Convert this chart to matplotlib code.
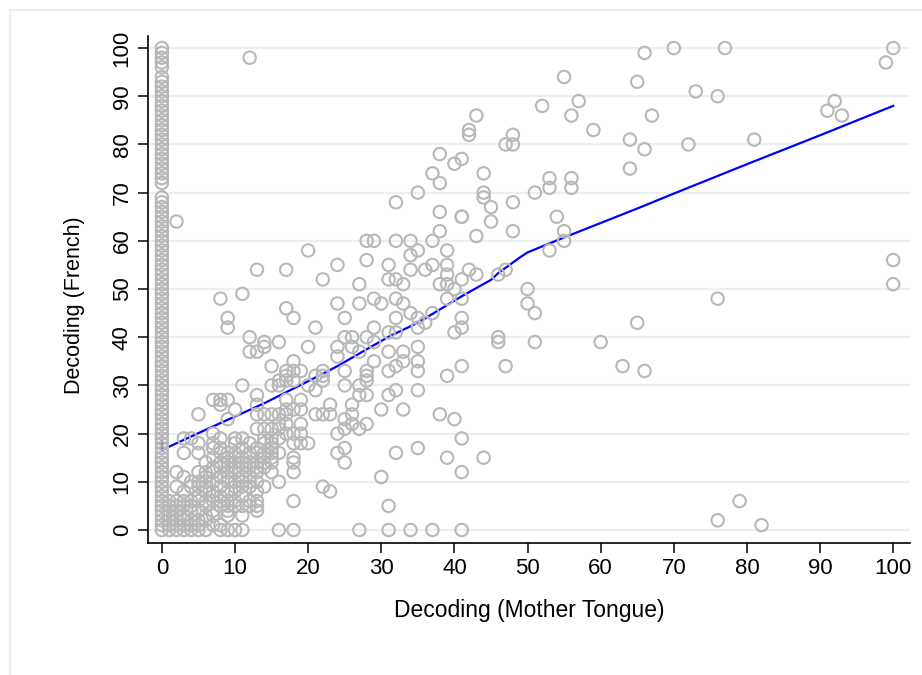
import matplotlib.pyplot as plt
from matplotlib.patches import Rectangle

plt.rcParams['font.family'] = ['Liberation Sans', 'DejaVu Sans']

# children with a mother tongue score of 0: french decoding scores
zero_y = [0, 1, 2, 3, 4, 5, 6, 7, 8, 9, 10, 11, 12, 13, 14, 15, 16, 17, 18, 19,
          20, 21, 22, 23, 24, 25, 26, 27, 28, 29, 30, 31, 32, 33, 34, 35, 36, 37, 38, 39,
          40, 41, 42, 43, 44, 45, 46, 47, 48, 49, 50, 51, 52, 53, 54, 55, 56, 57, 58, 59,
          60, 61, 62, 63, 64, 65, 66, 67, 68, 69,
          72, 73, 74, 75, 76, 77, 78, 79, 80, 81, 82, 83, 84, 85, 86, 87, 88, 89, 90, 91,
          92, 93, 94, 96, 97, 98, 99, 100]

# (mother tongue, french) pairs
low_pts = [(1, 0), (1, 1), (1, 2), (1, 3), (1, 4), (1, 5), (1, 6),
           (2, 0), (2, 1), (2, 2), (2, 3), (2, 4), (2, 5), (2, 6), (2, 9), (2, 12), (2, 64),
           (3, 0), (3, 1), (3, 2), (3, 3), (3, 5), (3, 6), (3, 8), (3, 11), (3, 16), (3, 19),
           (4, 0), (4, 1), (4, 2), (4, 4), (4, 5), (4, 6), (4, 9), (4, 10), (4, 19),
           (5, 0), (5, 1), (5, 2), (5, 4), (5, 6), (5, 7), (5, 9), (5, 10), (5, 12), (5, 16), (5, 18), (5, 24),
           (6, 0), (6, 2), (6, 3), (6, 5), (6, 6), (6, 8), (6, 9), (6, 10), (6, 11), (6, 12), (6, 14),
           (7, 1), (7, 3), (7, 4), (7, 6), (7, 7), (7, 8), (7, 10), (7, 12), (7, 13), (7, 15), (7, 17),
           (7, 18), (7, 20), (7, 27),
           (8, 0), (8, 1), (8, 5), (8, 6), (8, 7), (8, 9), (8, 11), (8, 13), (8, 14), (8, 16), (8, 17),
           (8, 19), (8, 26), (8, 27), (8, 48),
           (9, 0), (9, 3), (9, 4), (9, 5), (9, 6), (9, 8), (9, 10), (9, 11), (9, 12), (9, 13), (9, 14),
           (9, 15), (9, 16), (9, 23), (9, 27), (9, 42), (9, 44),
           (10, 0), (10, 5), (10, 6), (10, 8), (10, 9), (10, 10), (10, 12), (10, 13), (10, 14), (10, 15),
           (10, 16), (10, 18), (10, 19), (10, 25),
           (11, 0), (11, 3), (11, 5), (11, 7), (11, 9), (11, 10), (11, 11), (11, 13), (11, 14), (11, 15),
           (11, 17), (11, 19), (11, 30), (11, 49),
           (12, 5), (12, 6), (12, 9), (12, 10), (12, 11), (12, 13), (12, 14), (12, 15), (12, 16), (12, 18),
           (12, 37), (12, 40), (12, 98),
           (13, 4), (13, 5), (13, 6), (13, 8), (13, 10), (13, 12), (13, 13), (13, 14), (13, 16), (13, 17),
           (13, 21), (13, 24), (13, 26), (13, 28), (13, 37), (13, 54),
           (14, 9), (14, 13), (14, 14), (14, 15), (14, 16), (14, 18), (14, 19), (14, 21), (14, 24), (14, 38),
           (14, 39),
           (15, 12), (15, 14), (15, 15), (15, 16), (15, 17), (15, 18), (15, 19), (15, 21), (15, 24), (15, 30),
           (15, 34)]

mid_pts = [(16, 0), (16, 10), (16, 16), (16, 19), (16, 21), (16, 22), (16, 24), (16, 30), (16, 31), (16, 39),
           (17, 20), (17, 22), (17, 24), (17, 25), (17, 27), (17, 31), (17, 32), (17, 33), (17, 46), (17, 54),
           (18, 0), (18, 6), (18, 12), (18, 14), (18, 15), (18, 18), (18, 20), (18, 25), (18, 31), (18, 33),
           (18, 35), (18, 44),
           (19, 18), (19, 20), (19, 22), (19, 25), (19, 27), (19, 33),
           (20, 18), (20, 30), (20, 38), (20, 58),
           (21, 24), (21, 29), (21, 32), (21, 42),
           (22, 9), (22, 24), (22, 31), (22, 32), (22, 33), (22, 52),
           (23, 8), (23, 24), (23, 26),
           (24, 16), (24, 20), (24, 36), (24, 38), (24, 47), (24, 55),
           (25, 14), (25, 17), (25, 21), (25, 23), (25, 30), (25, 33), (25, 40), (25, 44),
           (26, 22), (26, 24), (26, 26), (26, 38), (26, 40),
           (27, 0), (27, 21), (27, 28), (27, 30), (27, 37), (27, 47), (27, 51),
           (28, 22), (28, 28), (28, 31), (28, 32), (28, 33), (28, 40), (28, 56), (28, 60),
           (29, 35), (29, 39), (29, 42), (29, 48), (29, 60),
           (30, 11), (30, 25), (30, 47),
           (31, 0), (31, 5), (31, 28), (31, 33), (31, 37), (31, 41), (31, 52), (31, 55),
           (32, 16), (32, 29), (32, 34), (32, 41), (32, 44), (32, 48), (32, 52), (32, 60), (32, 68),
           (33, 25), (33, 35), (33, 37), (33, 47), (33, 51),
           (34, 0), (34, 45), (34, 54), (34, 57), (34, 60),
           (35, 17), (35, 29), (35, 33), (35, 35), (35, 38), (35, 42), (35, 44), (35, 58), (35, 70),
           (36, 43), (36, 54),
           (37, 0), (37, 45), (37, 55), (37, 60), (37, 74),
           (38, 24), (38, 51), (38, 62), (38, 66), (38, 72), (38, 78),
           (39, 15), (39, 32), (39, 48), (39, 51), (39, 53), (39, 55), (39, 58),
           (40, 23), (40, 41), (40, 50), (40, 76),
           (41, 0), (41, 12), (41, 19), (41, 34), (41, 42), (41, 44), (41, 48), (41, 52), (41, 65), (41, 65),
           (41, 77),
           (42, 54), (42, 82), (42, 83),
           (43, 53), (43, 61), (43, 86),
           (44, 15), (44, 69), (44, 70), (44, 74),
           (45, 64), (45, 67),
           (46, 39), (46, 40), (46, 53),
           (47, 34), (47, 54), (47, 80),
           (48, 62), (48, 68), (48, 80), (48, 82),
           (50, 47), (50, 50)]

high_pts = [(51, 39), (51, 45), (51, 70), (52, 88), (53, 58), (53, 71), (53, 73), (54, 65), (55, 60),
            (55, 62), (55, 94), (56, 71), (56, 73), (56, 86), (57, 89), (59, 83), (60, 39), (63, 34),
            (64, 75), (64, 81), (65, 43), (65, 93), (66, 33), (66, 79), (66, 99), (67, 86), (70, 100),
            (72, 80), (73, 91), (76, 2), (76, 48), (76, 90), (77, 100), (79, 6), (81, 81), (82, 1),
            (91, 87), (92, 89), (93, 86), (99, 97), (100, 51), (100, 56), (100, 100)]

# lowess fit
fit_x = [0, 0, 6, 14, 22, 24, 31, 35, 41, 45, 46, 49, 50, 55, 60, 65, 70, 80, 90, 100]
fit_y = [18.7, 16.6, 20.8, 26.3, 32.4, 34.0, 40.1, 43.0, 48.5, 51.9, 53.3, 56.6, 57.6, 60.7,
         63.7, 66.7, 69.8, 75.9, 81.9, 88.0]

ticks = [0, 10, 20, 30, 40, 50, 60, 70, 80, 90, 100]

pts = [(0, v) for v in zero_y] + low_pts + mid_pts + high_pts
xs = [p[0] for p in pts]
ys = [p[1] for p in pts]

W, H = 922, 675
fig = plt.figure(figsize=(W / 100, H / 100), dpi=100)
fig.patches.append(Rectangle((10 / W, -0.1), 1.2, (H - 10) / H + 0.1, transform=fig.transFigure,
                             fill=False, edgecolor='#e6eded', linewidth=1.2))

ax = fig.add_axes([148 / W, (H - 543) / H, (910 - 148) / W, (543 - 36) / H])
ax.set_xlim(-1.9, 102.3)
ax.set_ylim(-2.7, 102.5)

for t in ticks:
    ax.axhline(t, color='#e8f0f2', lw=1.6, zorder=0)

ax.plot(fit_x, fit_y, color='#0000ff', lw=1.6, zorder=2)
ax.scatter(xs, ys, s=80, facecolors='none', edgecolors='#b8b8b8', linewidths=1.5, zorder=3)

for s in ['top', 'right']:
    ax.spines[s].set_visible(False)
for s in ['left', 'bottom']:
    ax.spines[s].set_linewidth(1.2)

ax.set_xticks(ticks)
ax.set_yticks(ticks)
ax.tick_params(direction='out', length=7, width=1.1, labelsize=16, pad=4)
for lab in ax.get_yticklabels():
    lab.set_rotation(90)
    lab.set_va('center')

ax.set_xlabel('Decoding (Mother Tongue)', fontsize=16.5, labelpad=14)
ax.set_ylabel('Decoding (French)', fontsize=15.5)
ax.yaxis.set_label_coords(-0.083, 0.47)

fig.savefig('out.png', dpi=100)
